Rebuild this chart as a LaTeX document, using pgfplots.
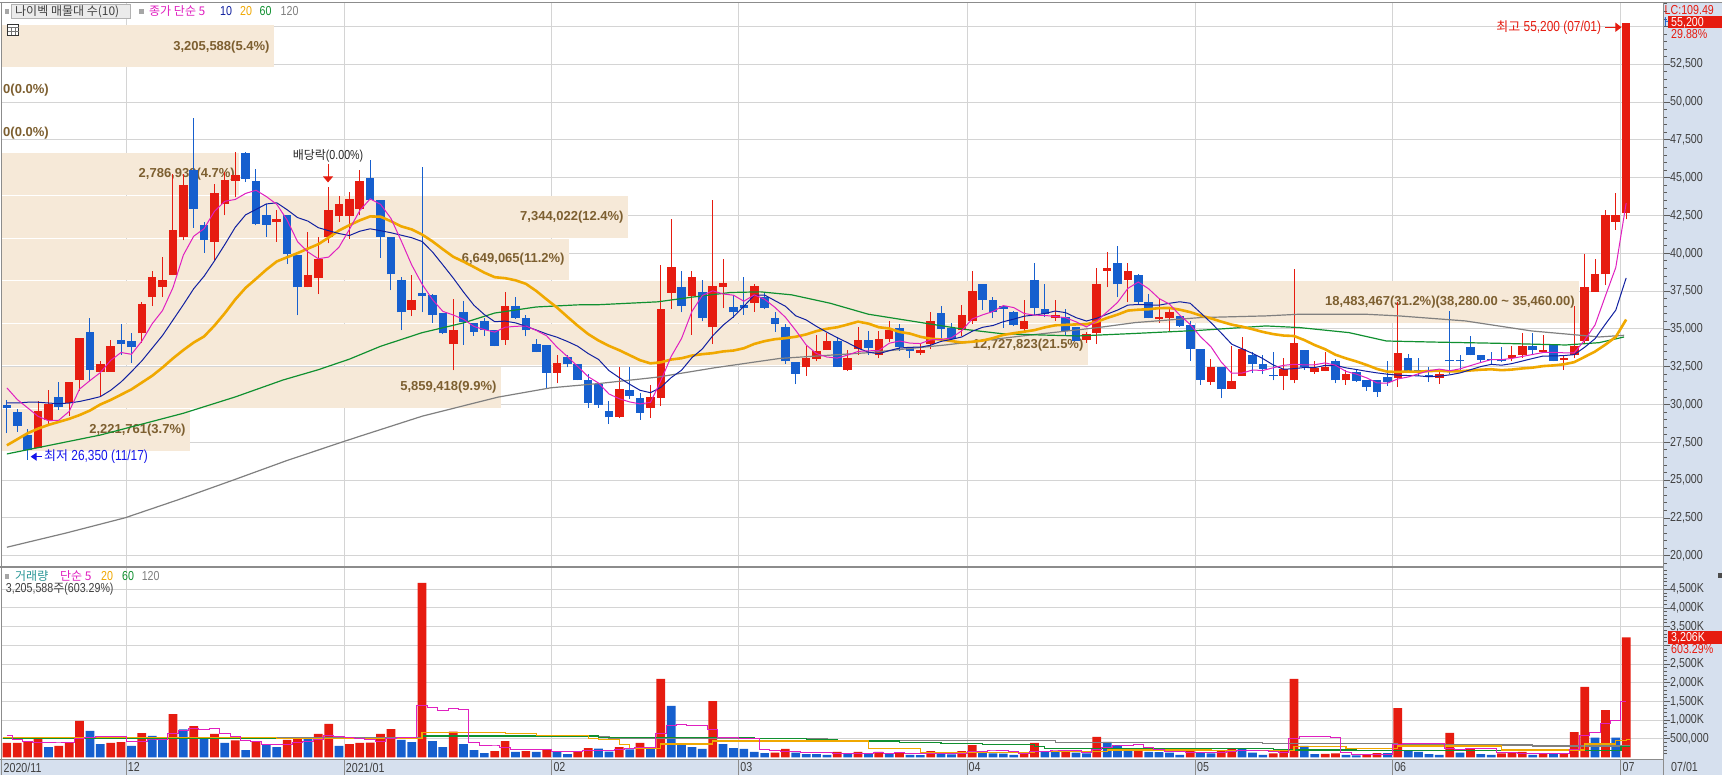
\documentclass[border=0pt]{standalone}
\usepackage{fontspec}
\setmainfont{Liberation Sans}
\newfontfamily\kr{Noto Sans CJK KR}
\newfontfamily\nf[FakeStretch=0.82]{Liberation Sans}
\usepackage{pgfplots}
\pgfplotsset{compat=1.18}
\usepackage{pgfplotstable}
\usetikzlibrary{arrows.meta}
\newcommand\fs[1]{\fontsize{#1}{#1}\selectfont}

\definecolor{cred}{RGB}{230,28,16}
\definecolor{cblue}{RGB}{22,95,206}
\definecolor{bandc}{RGB}{246,233,216}
\definecolor{bandtxt}{RGB}{125,95,48}
\definecolor{gridc}{RGB}{212,212,212}
\definecolor{panelbg}{RGB}{214,224,238}
\definecolor{framec}{RGB}{140,140,140}
\definecolor{tickc}{RGB}{90,90,90}
\definecolor{labc}{RGB}{64,64,64}
\definecolor{cma5}{RGB}{224,32,192}
\definecolor{cma10}{RGB}{16,32,160}
\definecolor{cma20}{RGB}{240,168,0}
\definecolor{cma60}{RGB}{16,144,48}
\definecolor{cma120}{RGB}{128,128,128}
\definecolor{cteal}{RGB}{40,150,150}
\definecolor{annblue}{RGB}{20,20,235}

% ---------- candles: i open high low close ----------
\pgfplotstableread{
i O H L C
3 27150 30250 27100 29550
4 28950 30950 28550 30050
6 30100 31500 29250 31500
7 31600 34400 30900 34400
9 32150 32850 30550 32650
10 32150 34250 32150 33850
13 34700 36750 34100 36650
14 37100 38850 36500 38400
15 37800 39750 37100 38250
16 38550 45250 38550 41550
17 41050 45250 40850 44550
20 40750 44600 39500 44000
21 43250 45350 42500 44850
22 44800 46700 43700 45150
26 42050 42850 40750 42300
29 37750 41400 37750 38550
30 38350 41100 37300 39650
31 41050 44400 40650 42850
32 42450 43800 42050 43250
33 42450 44050 40950 43600
34 42950 45500 42500 44800
39 36250 38550 35850 36900
43 34000 36950 32250 34900
48 34250 37450 33950 36500
53 32100 33300 31400 32750
59 29150 32450 29100 31050
62 29800 31300 29100 30500
63 30450 39250 29900 36300
64 37400 42300 36300 39100
66 37150 38850 34600 38400
68 35100 43550 34000 37850
69 37750 39650 36350 38050
72 36700 37950 36150 37850
77 32450 33850 31900 33050
78 33000 34600 32850 33550
79 33600 34750 33600 34200
81 32250 33600 32200 33050
82 33700 35150 33300 34250
84 33250 34850 33050 34300
85 34300 35550 34150 34900
88 33400 34000 33300 33600
89 34000 36100 33650 35550
92 34900 36550 34550 35900
93 35500 38800 35350 37500
98 35000 36900 34850 35550
101 35700 36900 35550 35950
104 34250 34800 34100 34650
105 34700 39050 34000 37950
106 38850 40100 37750 39000
108 38250 39350 36750 38850
111 35650 36950 35400 35800
112 35700 36300 34850 36100
116 31500 33000 31300 32500
118 31050 33850 31050 31550
119 31900 34450 31900 33700
123 31900 33100 30950 32350
124 31600 38950 31400 34050
126 32150 32850 32050 32400
127 32200 33450 32200 32500
129 31600 32250 31300 32000
134 31750 36750 31150 33400
138 31750 32300 31350 32000
145 33050 33850 32850 33250
146 33300 34700 33100 33900
148 33450 34600 33450 33600
150 32950 33200 32300 33100
151 33250 36500 33050 33900
152 34200 39950 34050 37800
153 37450 39650 37450 38600
154 38600 42850 37900 42500
155 42100 44000 41550 42500
156 42650 55200 42250 55200
}\upc

\pgfplotstableread{
i O H L C
0 30000 30300 28100 29750
1 29500 29700 28200 28600
2 28000 28350 26350 27000
5 30500 31500 29650 29850
8 34800 35750 31550 32300
11 34250 35350 33300 34000
12 34200 34700 32750 33800
18 45500 48950 41700 42950
19 41900 42050 40050 40900
23 46650 46700 44700 44900
24 44800 45600 41850 41950
25 42500 43250 41100 41900
27 42500 42500 39300 39950
28 39900 39900 35900 37750
35 45000 46200 43500 43500
36 43550 43550 39700 41050
37 41100 41100 37550 38600
38 38250 38450 34900 36100
40 37350 45700 36100 37150
41 37250 37300 35400 35950
42 36050 36050 34650 34700
44 36100 36850 33950 35450
45 35400 35400 34550 34800
46 35550 35750 34550 34900
47 34950 34950 33850 33900
49 36500 37100 35650 35750
50 35700 35950 34500 34900
51 34000 34300 33450 33450
52 33950 33950 31100 32100
54 33150 33300 32450 32650
55 32700 32700 31600 31600
56 31650 32000 29800 30100
57 31350 31400 29800 30000
58 29600 30200 28700 29150
60 30950 32500 30350 30550
61 30400 30750 29000 29450
65 37800 38800 36100 36500
67 37450 38250 35500 35750
70 36450 37250 35750 36100
71 36600 38400 35950 36400
73 37100 37400 36300 36400
74 35750 36100 34800 35350
75 35150 35350 32700 32850
76 32800 32800 31350 32050
80 34200 34450 32450 32500
83 34250 34850 33300 33750
86 35050 35350 33550 33800
87 33800 33800 33100 33550
90 36050 36500 34250 35000
91 35050 35400 34250 34350
94 37950 37950 36250 36900
95 36900 37100 35700 36100
96 36500 36550 35050 36300
97 36100 36200 35200 35250
99 38250 39350 35950 36350
100 36300 37950 35800 36000
102 35800 36300 34550 34850
103 35150 35150 34200 34200
107 39350 40450 37100 37950
109 38550 38650 36550 36750
110 36750 37300 35700 35700
113 35850 35850 35150 35200
114 35250 35550 32900 33650
115 33650 33650 31300 31650
117 32500 32500 30400 31000
120 33250 33450 32100 32650
121 32650 33300 32000 32350
122 31970 33450 31600 31900
125 33600 33600 32300 32450
128 32850 33000 31400 31600
130 32150 32250 31500 31550
131 31600 31600 30900 31150
132 31600 31650 30500 30850
133 31800 32850 31250 31500
135 33050 33350 32150 32200
136 32270 33100 31900 32200
137 31970 32500 31500 31900
139 32950 36200 32000 32850
140 32920 33250 32200 32850
141 33800 34550 33250 33250
142 33250 33300 32750 32950
143 33020 33450 32650 32950
144 33000 33800 32800 32850
147 33850 34700 33300 33600
149 34000 34000 32850 32900
}\dnc

% ---------- moving averages of the close ----------
\pgfplotstableread{
i a b c
0 31100 30100 27300
1 30330 30100 27700
2 29780 30150 28100
3 29220 30150 28400
4 28930 30100 28650
5 28960 30050 28850
6 29540 30100 29050
7 31020 30200 29300
8 31580 30350 29600
9 32110 30520 30000
10 32920 30940 30300
11 33440 31490 30650
12 33320 32170 31000
13 34190 32885 31450
14 35340 33725 31900
15 36220 34570 32450
16 37730 35585 33050
17 39880 36600 33600
18 41130 37660 34100
19 41630 38485 34500
20 42780 39500 35220
21 43440 40585 36040
22 43560 41720 36945
23 43960 42545 37715
24 44170 42900 38310
25 43750 43265 38920
26 43240 43340 39460
27 42200 42880 39740
28 40770 42365 40010
29 40090 42130 40310
30 39640 41695 40600
31 39750 41495 41040
32 40410 41305 41510
33 41580 41175 41860
34 42830 41460 42180
35 43600 41620 42440
36 43240 41495 42420
37 42310 41360 42120
38 40810 41195 41780
39 39230 41030 41580
40 37960 40780 41240
41 36940 40090 40790
42 36160 39235 40270
43 35920 38365 39770
44 35630 37430 39445
45 35160 36560 39090
46 34950 35945 38720
47 34790 35475 38420
48 35110 35515 38355
49 35170 35400 38215
50 35190 35175 37980
51 34900 34925 37510
52 34540 34665 36950
53 33790 34450 36410
54 33170 34170 35800
55 32510 33850 35205
56 31840 33370 34660
57 31420 32980 34230
58 30700 32245 33880
59 30380 31775 33590
60 30170 31340 33260
61 30040 30940 32930
62 30140 30780 32720
63 31570 31135 32790
64 33180 31780 32975
65 34370 32270 33060
66 36160 33100 33235
67 37210 33675 33330
68 37520 34545 33395
69 37310 35245 33510
70 37230 35800 33570
71 36830 36495 33720
72 37250 37230 34005
73 36960 37240 34190
74 36420 36865 34320
75 35770 36500 34385
76 34900 35865 34480
77 33940 35595 34635
78 33370 35165 34855
79 33140 34780 35010
80 33070 34420 35110
81 33270 34085 35290
82 33510 33725 35480
83 33550 33460 35350
84 33570 33355 35110
85 34050 33560 35030
86 34200 33735 34800
87 34060 33785 34690
88 34030 33790 34480
89 34280 33925 34350
90 34300 34175 34300
91 34410 34305 34195
92 34880 34470 34100
93 35660 34845 34150
94 35930 35105 34230
95 36150 35225 34390
96 36540 35475 34605
97 36410 35645 34715
98 36020 35840 34815
99 35910 35920 34920
100 35890 36020 35100
101 35820 36180 35240
102 35740 36075 35270
103 35470 35745 35295
104 35130 35520 35310
105 35520 35705 35465
106 36130 35975 35725
107 36750 36245 35945
108 37680 36575 36210
109 38100 36615 36270
110 37650 36585 36300
111 37010 36570 36375
112 36640 36695 36385
113 35910 36795 36270
114 35290 36695 36110
115 34480 36065 35885
116 33820 35415 35695
117 32800 34720 35480
118 32070 33990 35280
119 32080 33685 35150
120 32280 33380 34980
121 32250 33035 34800
122 32430 32615 34655
123 32590 32330 34560
124 32660 32370 34530
125 32620 32450 34260
126 32630 32440 33930
127 32750 32590 33655
128 32600 32595 33290
129 32190 32425 33055
130 32010 32315 32850
131 31760 32195 32615
132 31430 32090 32350
133 31410 32005 32170
134 31690 31940 32155
135 31820 31915 32180
136 32030 31895 32170
137 32240 31835 32210
138 32340 31875 32235
139 32230 31960 32190
140 32360 32090 32200
141 32570 32300 32250
142 32780 32510 32300
143 32970 32655 32330
144 32970 32600 32270
145 33050 32705 32310
146 33180 32875 32385
147 33310 33045 32440
148 33440 33205 32540
149 33450 33210 32585
150 33420 33235 32660
151 33420 33300 32800
152 34260 33785 33150
153 35260 34350 33500
154 37180 35315 33960
155 39060 36240 34470
156 43320 38370 35620
}\matab

% ---------- volume (millions of shares) ----------
\pgfplotstableread{
i v
0 0.39
1 0.39
2 0.43
3 0.53
5 0.31
6 0.40
7 0.98
10 0.39
11 0.41
13 0.65
16 1.16
18 0.84
20 0.63
22 0.46
24 0.41
27 0.47
28 0.51
30 0.63
31 0.90
33 0.36
34 0.39
35 0.40
36 0.63
37 0.76
40 4.67
43 0.69
47 0.17
48 0.44
50 0.17
52 0.22
55 0.17
56 0.25
59 0.28
61 0.39
63 2.10
68 1.51
74 0.13
75 0.23
80 0.15
82 0.15
84 0.15
86 0.12
89 0.17
92 0.17
93 0.33
98 0.11
99 0.39
102 0.18
105 0.55
109 0.24
114 0.17
117 0.18
118 0.25
122 0.11
123 0.18
124 2.10
127 0.10
128 0.11
131 0.07
132 0.12
134 1.32
139 0.66
141 0.23
144 0.11
145 0.12
146 0.15
148 0.11
150 0.12
151 0.68
152 1.89
154 1.27
156 3.21
}\volr

\pgfplotstableread{
i v
4 0.28
8 0.71
9 0.36
12 0.31
14 0.58
15 0.50
17 0.75
19 0.54
21 0.39
23 0.20
25 0.33
26 0.28
29 0.49
32 0.31
38 0.47
39 0.41
41 0.44
42 0.28
44 0.36
45 0.20
46 0.12
49 0.15
51 0.15
53 0.15
54 0.09
57 0.24
58 0.16
60 0.22
62 0.24
64 1.38
65 0.33
66 0.28
67 0.23
69 0.36
70 0.25
71 0.23
72 0.15
73 0.12
76 0.13
77 0.09
78 0.09
79 0.07
81 0.09
83 0.09
85 0.11
87 0.07
88 0.065
90 0.09
91 0.085
94 0.17
95 0.11
96 0.105
97 0.07
100 0.15
101 0.145
103 0.13
104 0.11
106 0.42
107 0.33
108 0.18
110 0.15
111 0.145
112 0.13
113 0.07
115 0.14
116 0.11
119 0.24
120 0.13
121 0.07
125 0.31
126 0.09
129 0.07
130 0.06
133 0.115
135 0.18
136 0.15
137 0.09
138 0.07
140 0.13
142 0.09
143 0.07
147 0.07
149 0.105
153 0.53
155 0.53
}\volb

\pgfplotstableread{
i v
0 0.575
1 0.47
2 0.42
3 0.40
4 0.404
5 0.388
6 0.39
7 0.50
8 0.536
9 0.552
10 0.568
11 0.57
12 0.436
13 0.424
14 0.468
15 0.49
16 0.64
17 0.728
18 0.766
19 0.758
20 0.784
21 0.63
22 0.572
23 0.444
24 0.418
25 0.358
26 0.336
27 0.338
28 0.40
29 0.416
30 0.476
31 0.60
32 0.568
33 0.538
34 0.518
35 0.472
36 0.416
37 0.506
38 0.528
39 0.532
40 1.388
41 1.35
42 1.254
43 1.298
44 1.288
45 0.394
46 0.33
47 0.308
48 0.258
49 0.216
50 0.21
51 0.216
52 0.226
53 0.168
54 0.156
55 0.156
56 0.176
57 0.18
58 0.182
59 0.22
60 0.23
61 0.258
62 0.258
63 0.646
64 0.866
65 0.888
66 0.866
67 0.864
68 0.746
69 0.542
70 0.526
71 0.516
72 0.50
73 0.222
74 0.176
75 0.172
76 0.152
77 0.14
78 0.134
79 0.122
80 0.106
81 0.098
82 0.11
83 0.11
84 0.126
85 0.118
86 0.124
87 0.108
88 0.104
89 0.108
90 0.104
91 0.098
92 0.118
93 0.17
94 0.17
95 0.174
96 0.178
97 0.158
98 0.114
99 0.158
100 0.166
101 0.174
102 0.196
103 0.20
104 0.144
105 0.224
106 0.278
107 0.308
108 0.318
109 0.344
110 0.264
111 0.21
112 0.17
113 0.148
114 0.134
115 0.132
116 0.124
117 0.134
118 0.17
119 0.184
120 0.182
121 0.174
122 0.16
123 0.146
124 0.518
125 0.554
126 0.558
127 0.556
128 0.542
129 0.136
130 0.086
131 0.082
132 0.086
133 0.088
134 0.338
135 0.362
136 0.378
137 0.372
138 0.362
139 0.23
140 0.22
141 0.236
142 0.236
143 0.236
144 0.126
145 0.124
146 0.108
147 0.104
148 0.112
149 0.112
150 0.112
151 0.218
152 0.582
153 0.666
154 0.898
155 0.98
156 1.486
}\vma

\pgfplotsset{
  candle/.style={draw=none, mark=none, forget plot,
    error bars/.cd, y dir=plus, y explicit, error mark=none,
    error bar style={draw=#1, line width=1pt}},
  body/.style={draw=none, mark=none, forget plot,
    error bars/.cd, y dir=plus, y explicit, error mark=none,
    error bar style={draw=#1, line width=8.6pt}},
}

\begin{document}
\begin{tikzpicture}[x=1pt,y=1pt]
\fill[white] (0,0) rectangle (1722,-775);
\fill[panelbg] (1663,-2.5) rectangle (1722,-775);
\fill[panelbg] (0,-759) rectangle (1663,-775);

% ================= PRICE PANEL =================
\begin{axis}[
  at={(2pt,-3pt)}, anchor=north west,
  scale only axis, width=1661pt, height=564pt,
  xmin=-0.47, xmax=159.55, ymin=19253, ymax=56554,
  axis line style={draw=none},
  xtick={11.5,32.5,52.5,70.5,92.5,114.5,133.5,155.5}, xticklabels={},
  xmajorgrids, xtick style={draw=none},
  ytick={20000,22500,...,52500},
  extra y ticks={55000}, extra y tick labels={},
  extra y tick style={grid=major},
  ymajorgrids,
  grid style={draw=gridc, line width=1pt},
  ytick pos=right, yticklabel pos=right,
  minor ytick={19500,20000,...,56500},
  tick align=outside, major tick length=7pt, minor tick length=3.5pt,
  ytick style={draw=tickc, line width=0.8pt},
  scaled y ticks=false,
  /pgf/number format/1000 sep={,},
  /pgf/number format/assume math mode=true,
  yticklabel style={font=\nf\fs{13}, text=labc, inner sep=0pt, anchor=west},
]
% volume-profile bands
\addplot[fill=bandc, draw=none, forget plot] coordinates {(-0.47,52320) (25.73,52320) (25.73,55070) (-0.47,55070)};
\addplot[fill=bandc, draw=none, forget plot] coordinates {(-0.47,43860) (22.41,43860) (22.41,46610) (-0.47,46610)};
\addplot[fill=bandc, draw=none, forget plot] coordinates {(-0.47,41040) (59.84,41040) (59.84,43790) (-0.47,43790)};
\addplot[fill=bandc, draw=none, forget plot] coordinates {(-0.47,38220) (54.15,38220) (54.15,40970) (-0.47,40970)};
\addplot[fill=bandc, draw=none, forget plot] coordinates {(-0.47,35400) (151.49,35400) (151.49,38150) (-0.47,38150)};
\addplot[fill=bandc, draw=none, forget plot] coordinates {(-0.47,32580) (104.15,32580) (104.15,35330) (-0.47,35330)};
\addplot[fill=bandc, draw=none, forget plot] coordinates {(-0.47,29760) (47.60,29760) (47.60,32510) (-0.47,32510)};
\addplot[fill=bandc, draw=none, forget plot] coordinates {(-0.47,26940) (17.64,26940) (17.64,29690) (-0.47,29690)};

\begin{scope}[every node/.style={inner sep=0pt, text=bandtxt, font=\bfseries\fs{13}}]
\node[anchor=east] at (axis cs:25.32,53664) {3,205,588(5.4\%)};
\node[anchor=west] at (axis cs:-0.37,50800) {0(0.0\%)};
\node[anchor=west] at (axis cs:-0.37,47976) {0(0.0\%)};
\node[anchor=east] at (axis cs:21.98,45245) {2,786,939(4.7\%)};
\node[anchor=east] at (axis cs:59.43,42381) {7,344,022(12.4\%)};
\node[anchor=east] at (axis cs:53.74,39623) {6,649,065(11.2\%)};
\node[anchor=east] at (axis cs:151.07,36759) {18,483,467(31.2\%)(38,280.00 \textasciitilde{} 35,460.00)};
\node[anchor=east] at (axis cs:103.73,33935) {12,727,823(21.5\%)};
\node[anchor=east] at (axis cs:47.18,31138) {5,859,418(9.9\%)};
\node[anchor=east] at (axis cs:17.22,28314) {2,221,761(3.7\%)};
\end{scope}

% candles
\addplot[candle=cred] table[x=i, y=L, y error expr=\thisrow{H}-\thisrow{L}] {\upc};
\addplot[body=cred] table[x=i, y=O, y error expr=\thisrow{C}-\thisrow{O}] {\upc};
\addplot[candle=cblue] table[x=i, y=L, y error expr=\thisrow{H}-\thisrow{L}] {\dnc};
\addplot[body=cblue] table[x=i, y=C, y error expr=\thisrow{O}-\thisrow{C}] {\dnc};

% moving averages
\addplot[draw=cma120, line width=1.2pt] coordinates {
(0,20560) (5.7,21500) (11.4,22510) (16.5,23700) (21.8,25000) (27,26300) (32.4,27540) (34,27900)
(40,29225) (47.3,30485) (52.4,31104) (57.1,31392) (62.7,31811) (68.2,32430) (74.5,33050)
(83,33427) (90.4,33936) (97.8,34533) (105.1,35086) (108.7,35418) (115,35750) (121.3,35860)
(124.5,35970) (130.9,35970) (134.1,35860) (140.5,35528) (146.9,34864) (153.4,34467) (155.8,34577)};
\addplot[draw=cma60, line width=1.2pt] coordinates {
(0,26730) (9,27980) (17,29420) (22,30500) (26.6,31620) (30,32300) (33,33000) (36,33850)
(40,34750) (44,35400) (47,36050) (51,36450) (55,36590) (57,36600) (62.7,36790) (66,37100)
(69.7,37408) (72.6,37450) (75.6,37253) (79.3,36700) (83,35970) (87.7,35460) (92.2,34975)
(95.8,34687) (99.5,34600) (103.2,34533) (108.7,34700) (115,34909) (121.3,35196) (124.5,35090)
(129.3,34754) (132.9,34200) (137.4,34130) (143.8,34046) (150.2,33936) (153.4,34090) (155.8,34467)};
\addplot[draw=cma20, line width=2.6pt] table[x=i, y=c] {\matab};
\addplot[draw=cma10, line width=1pt] table[x=i, y=b] {\matab};
\addplot[draw=cma5, line width=1pt] table[x=i, y=a] {\matab};

% annotations
\draw[annblue, line width=1pt, -{Triangle[length=6pt,width=8pt]}] (axis cs:3.35,26550) -- (axis cs:2.29,26550);
\node[anchor=west, inner sep=0pt, text=annblue] at (axis cs:3.58,26550) {\kr\fs{13}최저\nf\fs{14.5} 26,350 (11/17)};
\draw[cred, line width=1pt, -{Triangle[length=6pt,width=9pt]}] (axis cs:154.0,54950) -- (axis cs:155.55,54950);
\node[anchor=east, inner sep=0pt, text=cred] at (axis cs:153.6,54950) {\kr\fs{13}최고\nf\fs{14.5} 55,200 (07/01)};
\draw[cred, line width=1pt, -{Triangle[length=6pt,width=10pt]}] (axis cs:30.94,45906) -- (axis cs:30.94,44689);
\node[inner sep=0pt, text=black!85] at (axis cs:30.94,46455) {\kr\fs{12}배당락\nf\fs{13}(0.00\%)};
\end{axis}

% ================= VOLUME PANEL =================
\begin{axis}[
  at={(2pt,-567pt)}, anchor=north west,
  scale only axis, width=1661pt, height=191pt,
  xmin=-0.47, xmax=159.55, ymin=-0.0134, ymax=5.094,
  axis line style={draw=none},
  xtick={-0.47,11.5,32.5,52.5,70.5,92.5,114.5,133.5,155.5},
  xticklabels={2020/11,12,2021/01,02,03,04,05,06,07},
  xmajorgrids, xtick style={draw=none},
  xticklabel style={font=\nf\fs{13}, text=labc, anchor=north west, inner sep=0pt, xshift=1.5pt, yshift=2.5pt},
  ytick={0.5,1,...,4.5},
  yticklabels={{500,000},{1,000K},{1,500K},{2,000K},{2,500K},{},{3,500K},{4,000K},{4,500K}},
  ymajorgrids,
  grid style={draw=gridc, line width=1pt},
  ytick pos=right, yticklabel pos=right,
  minor ytick={0.1,0.2,...,5.0},
  tick align=outside, major tick length=7pt, minor tick length=3.5pt,
  ytick style={draw=tickc, line width=0.8pt},
  scaled y ticks=false,
  yticklabel style={font=\nf\fs{13}, text=labc, inner sep=0pt, anchor=west},
]
\addplot[ybar, bar width=0.84, bar shift=0pt, fill=cred, draw=none] table[x=i, y=v] {\volr};
\addplot[ybar, bar width=0.84, bar shift=0pt, fill=cblue, draw=none] table[x=i, y=v] {\volb};
\addplot[const plot, draw=cma120, line width=1.2pt] coordinates {
(-0.4,0.53) (40,0.56) (58,0.51) (79,0.45) (101,0.40) (121,0.38) (134,0.334) (147,0.307) (156.4,0.307)};
\addplot[const plot, draw=cma60, line width=1.2pt] coordinates {
(-0.4,0.51) (40,0.575) (57,0.54) (72,0.51) (77,0.47) (80,0.44) (86,0.41) (90,0.38) (94,0.35)
(99,0.30) (100,0.245) (122,0.20) (130,0.18) (155.5,0.30) (156.4,0.30)};
\addplot[const plot, draw=cma20, line width=1.2pt] coordinates {
(-0.4,0.53) (26,0.50) (40,0.67) (48,0.65) (51,0.58) (56,0.51) (57,0.49) (59,0.35) (60,0.25)
(63,0.36) (68,0.44) (83,0.25) (88,0.13) (99,0.16) (106,0.20) (116,0.18) (124,0.29) (129,0.23)
(134,0.31) (144,0.20) (152,0.36) (155,0.45) (156,0.49) (156.4,0.49)};
\addplot[const plot mark mid, draw=cma5, line width=1pt] table[x=i, y=v] {\vma};
\end{axis}

% ================= FRAME =================
\draw[framec, line width=1pt] (0,-2.5) -- (1722,-2.5);
\draw[framec, line width=1pt] (1.5,-2.5) -- (1.5,-775);
\draw[framec, line width=1pt] (1663,-2.5) -- (1663,-775);
\draw[framec, line width=1.2pt] (0,-567) -- (1663,-567);
\draw[framec, line width=1pt] (0,-759) -- (1663,-759);
\foreach \x in {126.25,344.2,551.8,738.7,967.0,1195.3,1392.5,1620.9}
  \draw[framec, line width=1pt] (\x,-759) -- (\x,-775);

% ================= LEGENDS =================
\fill[gray!70] (4.6,-9) rectangle (9.2,-14);
\draw[gray!60, fill=black!8] (11.5,-4) rectangle (130,-18.5);
\node[anchor=west, inner sep=0pt, text=labc] at (15,-11.5) {\kr\fs{12}나이벡 매물대 수(10)};
\fill[gray!70] (139,-9) rectangle (143.6,-14);
\node[anchor=west, inner sep=0pt, text=cma5] at (149,-11.5) {\kr\fs{12}종가 단순 5};
\node[anchor=west, inner sep=0pt, text=cma10] at (220,-11.5) {\nf\fs{13}10};
\node[anchor=west, inner sep=0pt, text=cma20] at (240,-11.5) {\nf\fs{13}20};
\node[anchor=west, inner sep=0pt, text=cma60] at (259.5,-11.5) {\nf\fs{13}60};
\node[anchor=west, inner sep=0pt, text=cma120] at (280.5,-11.5) {\nf\fs{13}120};
\draw[black!80, fill=white, line width=0.8pt] (7.5,-24.5) rectangle (18.5,-35);
\draw[black!55, line width=0.5pt] (7.5,-27.5) -- (18.5,-27.5) (7.5,-31.2) -- (18.5,-31.2)
  (11.2,-27.5) -- (11.2,-35) (14.8,-27.5) -- (14.8,-35);

\fill[gray!70] (4.6,-573.5) rectangle (9.2,-578.5);
\node[anchor=west, inner sep=0pt, text=cteal] at (15,-576) {\kr\fs{12}거래량};
\node[anchor=west, inner sep=0pt, text=cma5] at (60,-576) {\kr\fs{12}단순 5};
\node[anchor=west, inner sep=0pt, text=cma20] at (101,-576) {\nf\fs{13}20};
\node[anchor=west, inner sep=0pt, text=cma60] at (122,-576) {\nf\fs{13}60};
\node[anchor=west, inner sep=0pt, text=cma120] at (141.6,-576) {\nf\fs{13}120};
\node[anchor=west, inner sep=0pt, text=labc] at (5.7,-589.5) {\nf\fs{13}3,205,588\kr\fs{12}주\nf\fs{13}(603.29\%)};

% ================= RIGHT PANEL LABELS =================
\node[anchor=west, inner sep=0pt, text=cred] at (1664.5,-10) {\nf\fs{13}LC:109.49};
\node[anchor=west, inner sep=0pt, text=cblue] at (1664,-22.3) {\nf\fs{13}H};
\fill[cred] (1668.3,-15.7) rectangle (1722,-28.5);
\node[anchor=west, inner sep=0pt, text=white] at (1671,-22.3) {\nf\fs{13}55,200};
\node[anchor=west, inner sep=0pt, text=cred] at (1671,-33.8) {\nf\fs{13}29.88\%};
\fill[cred] (1668.3,-631) rectangle (1722,-644);
\node[anchor=west, inner sep=0pt, text=white] at (1671,-637.5) {\nf\fs{13}3,206K};
\node[anchor=west, inner sep=0pt, text=cred] at (1671,-649.5) {\nf\fs{13}603.29\%};
\node[anchor=west, inner sep=0pt, text=labc] at (1671,-767) {\nf\fs{13}07/01};
\fill[black!70] (1718,-572.5) rectangle (1722,-577.5);

\pgfresetboundingbox
\useasboundingbox (0,0) rectangle (1722,-775);
\end{tikzpicture}
\end{document}
